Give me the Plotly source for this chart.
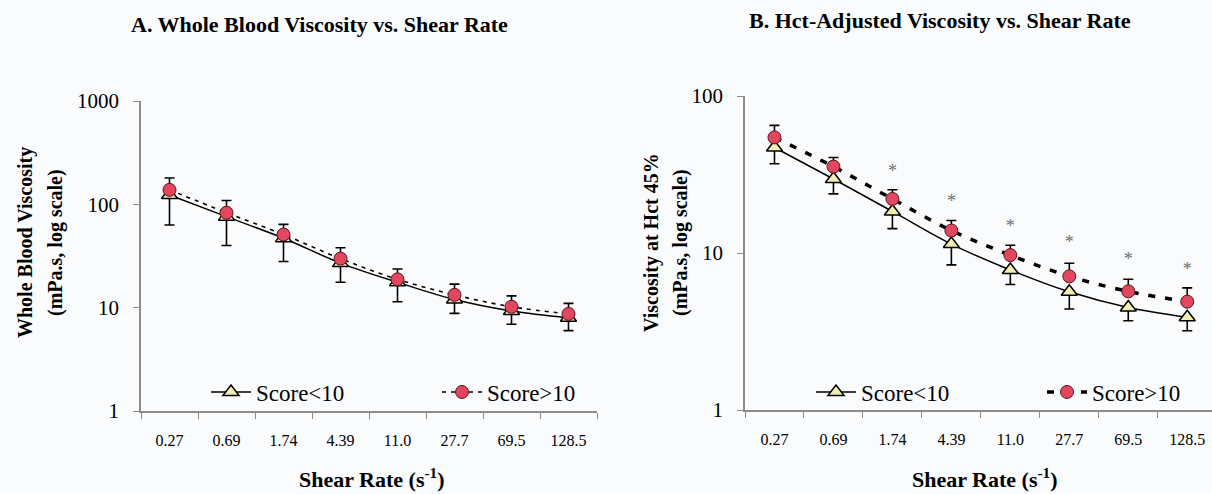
import plotly.graph_objects as go

# ---------------- data ----------------
shear_labels = ["0.27", "0.69", "1.74", "4.39", "11.0", "27.7", "69.5", "128.5"]

# Panel A: whole blood viscosity (mPa.s)
a_low = [123, 76, 47, 27, 17.6, 12.0, 9.3, 8.0]          # Score<10
a_high = [138, 83, 51, 29.8, 18.8, 13.3, 10.2, 8.7]      # Score>10
a_high_upper = [180, 109, 64, 38, 23.7, 16.9, 13.0, 11.0]
a_low_lower = [63, 40, 28, 17.6, 11.4, 8.8, 6.9, 6.0]

# Panel B: Hct-adjusted viscosity at Hct 45% (mPa.s)
b_low = [47, 29.6, 18.4, 11.4, 7.8, 5.66, 4.5, 3.9]
b_high = [54.5, 35.5, 22.1, 13.9, 9.7, 7.1, 5.7, 4.9]
b_high_upper = [65, 40.6, 25.3, 16.1, 11.2, 8.6, 6.8, 6.0]
b_low_lower = [37, 23.8, 14.3, 8.4, 6.3, 4.4, 3.7, 3.2]
b_star = [None, None, 32.5, 21.0, 14.6, 11.5, 9.0, 7.7]

legend_names = ["Score<10", "Score>10"]

# ---------------- style ----------------
SERIF = "Liberation Serif, Times New Roman, serif"
BG = "#f9fbfd"
AX = "#8c8c8c"
TRI_FILL = "#f2eeb3"
CIRC_FILL = "#e2475f"

fig = go.Figure()


def add_panel(xa, ya, low, high, high_up, low_lo, legend, dash, dash_w):
    minus = [v - lo for v, lo in zip(low, low_lo)]
    plus = [hi - v for v, hi in zip(high, high_up)]
    fig.add_trace(go.Scatter(
        x=shear_labels, y=low, xaxis=xa, yaxis=ya, name=legend_names[0],
        legend=legend, mode="lines+markers",
        line=dict(color="black", width=1.5, shape="spline", smoothing=1.0),
        marker=dict(symbol="triangle-up", size=14, color=TRI_FILL,
                    line=dict(color="black", width=1.5)),
        error_y=dict(type="data", symmetric=False, arrayminus=minus,
                     array=[0] * len(low), color="black", thickness=1.6, width=5),
    ))
    fig.add_trace(go.Scatter(
        x=shear_labels, y=high, xaxis=xa, yaxis=ya, name=legend_names[1],
        legend=legend, mode="lines+markers",
        line=dict(color="black", width=dash_w, dash=dash, shape="spline", smoothing=1.0),
        marker=dict(symbol="circle", size=13, color=CIRC_FILL,
                    line=dict(color="#5a1620", width=1)),
        error_y=dict(type="data", symmetric=False, array=plus,
                     arrayminus=[0] * len(high), color="black", thickness=1.6, width=5),
    ))


add_panel("x", "y", a_low, a_high, a_high_upper, a_low_lower, "legend", "4px,5px", 1.6)
add_panel("x2", "y2", b_low, b_high, b_high_upper, b_low_lower, "legend2", "7px,10px", 3.5)

star_x = [lab for lab, s in zip(shear_labels, b_star) if s is not None]
star_y = [s for s in b_star if s is not None]
fig.add_trace(go.Scatter(
    x=star_x, y=star_y, xaxis="x2", yaxis="y2", mode="text",
    text=["*"] * len(star_y), textposition="middle center",
    textfont=dict(family=SERIF, size=18, color="#6e6e6e"),
    showlegend=False, hoverinfo="skip",
))

xaxis_common = dict(
    type="category", categoryorder="array", categoryarray=shear_labels,
    showline=True, linecolor=AX, linewidth=1.5, ticks="outside",
    tickson="boundaries", ticklen=6, tickcolor=AX, tickwidth=1.2,
    showgrid=False, zeroline=False, ticklabelstandoff=14, automargin=False,
    tickfont=dict(family=SERIF, size=16, color="black"),
)
yaxis_common = dict(
    type="log", showline=True, linecolor=AX, linewidth=1.5, ticks="outside",
    ticklen=6, tickcolor=AX, tickwidth=1.2, showgrid=False, zeroline=False,
    automargin=False,
    tickfont=dict(family=SERIF, size=21, color="black"), ticklabelstandoff=10,
)

legend_common = dict(
    orientation="h", xanchor="left", yanchor="middle", bgcolor="rgba(0,0,0,0)",
    font=dict(family=SERIF, size=23, color="black"),
    entrywidth=176, entrywidthmode="pixels", itemwidth=40,
)

fig.update_layout(
    width=1212, height=494,
    margin=dict(l=0, r=0, t=0, b=0, autoexpand=False),
    font=dict(family=SERIF, color="black"),
    paper_bgcolor=BG, plot_bgcolor=BG,
    xaxis=dict(xaxis_common, domain=[141 / 1212, 597 / 1212], range=[-0.5, 7.5], anchor="y"),
    yaxis=dict(yaxis_common, domain=[1 - 411 / 494, 1 - 101 / 494], range=[0, 3],
               tickvals=[1, 10, 100, 1000], ticktext=["1", "10", "100", "1000"], anchor="x"),
    xaxis2=dict(xaxis_common, domain=[745 / 1212, 1.0], range=[-0.5, 7.42], anchor="y2"),
    yaxis2=dict(yaxis_common, domain=[1 - 410 / 494, 1 - 96 / 494], range=[0, 2],
                tickvals=[1, 10, 100], ticktext=["1", "10", "100"], anchor="x2"),
    legend=dict(legend_common, x=206 / 1212, y=1 - 392 / 494),
    legend2=dict(legend_common, x=811 / 1212, y=1 - 392 / 494),
    showlegend=True,
)

annotations = [
    dict(text="<b>A. Whole Blood Viscosity vs. Shear Rate</b>", x=320 / 1212, y=1 - 25 / 494, size=22),
    dict(text="<b>B. Hct-Adjusted Viscosity vs. Shear Rate</b>", x=940 / 1212, y=1 - 20 / 494, size=22),
    dict(text="<b>Shear Rate (s<sup>-1</sup>)</b>", x=372 / 1212, y=1 - 478 / 494, size=22),
    dict(text="<b>Shear Rate (s<sup>-1</sup>)</b>", x=985 / 1212, y=1 - 478 / 494, size=22),
]
for a in annotations:
    fig.add_annotation(text=a["text"], x=a["x"], y=a["y"], xref="paper", yref="paper",
                       xanchor="center", yanchor="middle", showarrow=False,
                       font=dict(family=SERIF, size=a["size"], color="black"))

ytitles = [
    ("<b>Whole Blood Viscosity</b>", 26, 243),
    ("<b>(mPa.s, log scale)</b>", 56, 243),
    ("<b>Viscosity at Hct 45%</b>", 652, 243),
    ("<b>(mPa.s, log scale)</b>", 681, 243),
]
for t, px, py in ytitles:
    fig.add_annotation(text=t, x=px / 1212, y=1 - py / 494, xref="paper", yref="paper",
                       xanchor="center", yanchor="middle", showarrow=False, textangle=-90,
                       font=dict(family=SERIF, size=20, color="black"))

fig.write_html("out.html", config={"displayModeBar": False},
               post_script="document.body.style.margin='0';")
